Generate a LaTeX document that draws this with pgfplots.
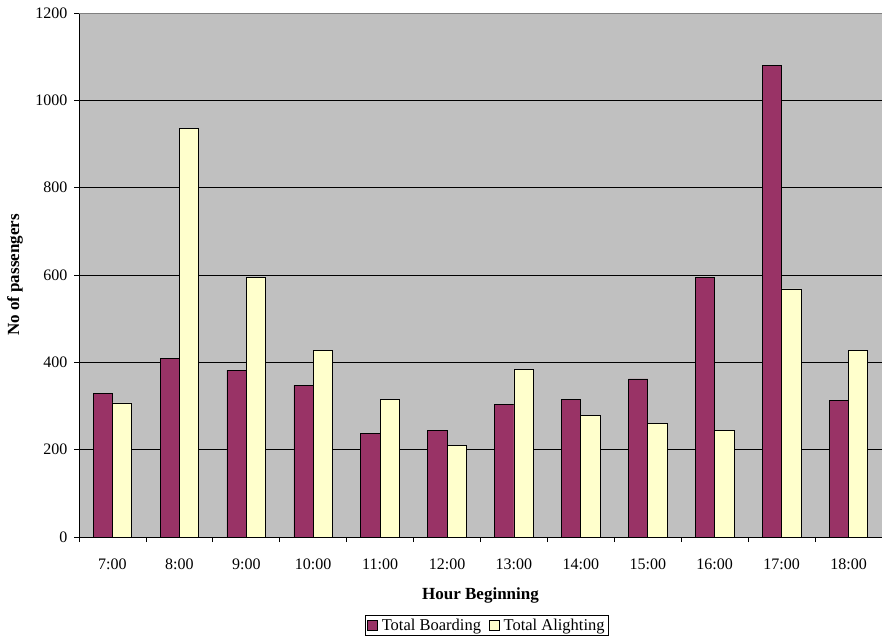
\documentclass[border=0pt]{standalone}
\usepackage{fontspec}
\setmainfont{Liberation Serif}
\usepackage{pgfplots}
\pgfplotsset{compat=1.18}
\definecolor{board}{HTML}{993366}
\definecolor{alight}{HTML}{FFFFCC}
\definecolor{bg}{HTML}{C0C0C0}
\begin{document}
\begin{tikzpicture}
\useasboundingbox (0pt,0pt) rectangle (882pt,641pt);
\begin{axis}[
  at={(79pt,104pt)}, anchor=south west,
  scale only axis, width=803pt, height=524pt,
  xmin=-0.5, xmax=11.5, ymin=0, ymax=1200,
  axis lines*=left,
  axis line style={black, line width=1pt},
  axis background/.style={fill=bg},
  xtick={0,...,11},
  xticklabels={7:00,8:00,9:00,10:00,11:00,12:00,13:00,14:00,15:00,16:00,17:00,18:00},
  major x tick style={draw=none},
  minor xtick={-0.5,0.5,...,11.5},
  minor x tick style={black, line width=0.8pt},
  minor tick length=5pt,
  ytick={0,200,...,1200},
  major tick length=5pt,
  tick align=outside,
  y tick style={black, line width=0.8pt},
  ymajorgrids,
  major grid style={black, line width=0.8pt},
  /pgf/number format/assume math mode=true,
  /pgf/number format/set thousands separator={},
  tick label style={font=\fontsize{16}{19}\selectfont},
  xticklabel style={yshift=-13pt},
  yticklabel style={xshift=-3pt},
  xlabel={Hour Beginning},
  ylabel={No of passengers},
  label style={font=\fontsize{17}{20}\selectfont\bfseries},
  xlabel style={at={(axis description cs:0.5,-0.1107)}, anchor=center},
  ylabel style={at={(axis description cs:-0.0797,0.5)}, anchor=center},
  ybar, bar width=19.3pt,
  legend columns=2,
  legend style={at={(axis description cs:0.508,-0.168)}, anchor=center,
    draw=black, line width=0.6pt, inner sep=1.5pt,
    font=\fontsize{16.5}{19}\selectfont,
    /tikz/every odd column/.append style={column sep=2pt},
    /tikz/every even column/.append style={column sep=6pt}},
  legend image code/.code={\draw[#1, draw=black, line width=0.6pt] (0pt,-5pt) rectangle (10pt,5pt);},
  clip=false,
]
\addplot[fill=board, draw=black, line width=0.8pt, bar shift=-9.65pt] coordinates {
(0,329) (1,408) (2,382) (3,347) (4,237) (5,244) (6,303) (7,316) (8,362) (9,595) (10,1079) (11,312)};
\addplot[fill=alight, draw=black, line width=0.8pt, bar shift=9.65pt] coordinates {
(0,307) (1,935) (2,594) (3,428) (4,314) (5,210) (6,384) (7,278) (8,261) (9,243) (10,568) (11,428)};
\legend{Total Boarding,Total Alighting}
\draw[gray, line width=1pt] (rel axis cs:0,1) -- (rel axis cs:1,1);
\end{axis}
\end{tikzpicture}
\end{document}
